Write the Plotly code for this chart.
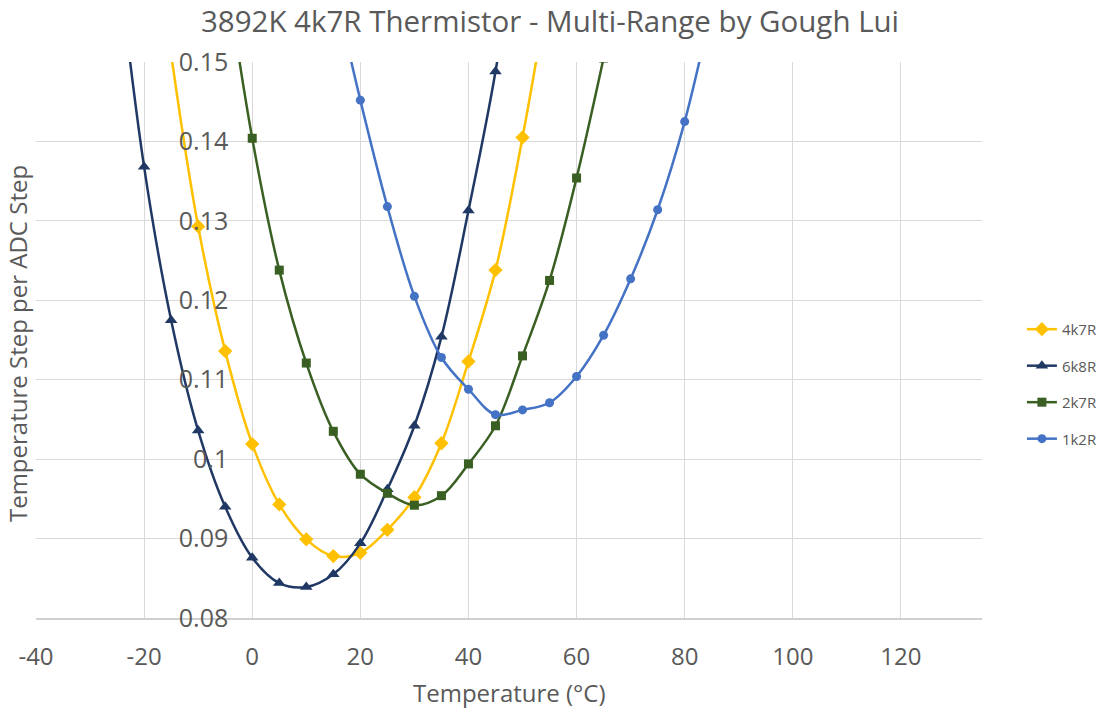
import plotly.graph_objects as go

# ---- data ----
x_4k7R = [-20, -15, -10, -5, 0, 5, 10, 15, 20, 25, 30, 35, 40, 45, 50, 55]
y_4k7R = [0.178, 0.1510, 0.1293, 0.1136, 0.1019, 0.0943, 0.0899, 0.0878, 0.0882,
          0.0911, 0.0952, 0.1020, 0.1123, 0.1238, 0.1405, 0.1600]

x_6k8R = [-25, -20, -15, -10, -5, 0, 5, 10, 15, 20, 25, 30, 35, 40, 45, 50]
y_6k8R = [0.164, 0.1368, 0.1175, 0.1036, 0.0940, 0.0876, 0.0844, 0.0839, 0.0855,
          0.0894, 0.0962, 0.1042, 0.1154, 0.1313, 0.1488, 0.172]

x_2k7R = [-5, 0, 5, 10, 15, 20, 25, 30, 35, 40, 45, 50, 55, 60, 65]
y_2k7R = [0.162, 0.1404, 0.1238, 0.1121, 0.1035, 0.0981, 0.0957, 0.0942, 0.0954,
          0.0994, 0.1042, 0.1130, 0.1225, 0.1354, 0.1505]

x_1k2R = [15, 20, 25, 30, 35, 40, 45, 50, 55, 60, 65, 70, 75, 80, 85]
y_1k2R = [0.160, 0.1452, 0.1318, 0.1205, 0.1128, 0.1088, 0.1056, 0.1062, 0.1071,
          0.1104, 0.1156, 0.1227, 0.1314, 0.1425, 0.157]

x_tickvals = [-40, -20, 0, 20, 40, 60, 80, 100, 120]
x_ticktext = ["-40", "-20", "0", "20", "40", "60", "80", "100", "120"]
y_tickvals = [0.08, 0.09, 0.10, 0.11, 0.12, 0.13, 0.14, 0.15]
y_ticktext = ["0.08", "0.09", "0.1", "0.11", "0.12", "0.13", "0.14", "0.15"]

series = [
    ("4k7R", x_4k7R, y_4k7R, "#FFC000", "diamond", 11),
    ("6k8R", x_6k8R, y_6k8R, "#203864", "triangle-up", 11),
    ("2k7R", x_2k7R, y_2k7R, "#3A5F22", "square", 9),
    ("1k2R", x_1k2R, y_1k2R, "#4472C4", "circle", 9),
]

FONT = "Open Sans"
GREY = "#595959"

fig = go.Figure()
for name, xs, ys, col, sym, sz in series:
    fig.add_trace(go.Scatter(
        x=xs, y=ys, name=name, mode="lines+markers",
        line=dict(color=col, width=2.5, shape="spline", smoothing=1),
        marker=dict(color=col, symbol=sym, size=sz),
        legendgroup=name,
    ))

W, H = 1115, 719
L, R, T, B = 36, 131, 62, 101
plot_w = W - L - R
plot_h = H - T - B
xmin, xmax = -40, 135
ypos = (0 - xmin) / (xmax - xmin)

fig.update_layout(
    width=W, height=H,
    margin=dict(l=L, r=R, t=T, b=B),
    paper_bgcolor="white", plot_bgcolor="white",
    font=dict(family=FONT, color=GREY),
    title=dict(text="3892K 4k7R Thermistor - Multi-Range by Gough Lui",
               x=550 / W, xanchor="center", xref="container",
               y=1 - 22 / H, yref="container", yanchor="middle",
               font=dict(size=29.5, color=GREY, family=FONT)),
    xaxis=dict(range=[xmin, xmax], tickvals=x_tickvals, ticktext=x_ticktext,
               ticks="", automargin=False,
               showgrid=True, gridcolor="#D9D9D9", gridwidth=1,
               zeroline=False, showline=True, linecolor="#D0D0D0", linewidth=1.5,
               tickfont=dict(size=24, color=GREY), ticklabelstandoff=16),
    yaxis=dict(range=[0.08, 0.15], tickvals=y_tickvals, ticktext=y_ticktext,
               anchor="free", position=ypos, ticks="", automargin=False,
               showgrid=True, gridcolor="#D9D9D9", gridwidth=1,
               zeroline=False, showline=False,
               tickfont=dict(size=25, color=GREY), ticklabelstandoff=24),
    legend=dict(x=(1024 - L) / plot_w, xanchor="left",
                y=0.421, yanchor="middle",
                font=dict(size=15, color=GREY), tracegroupgap=14,
                bgcolor="rgba(0,0,0,0)"),
    showlegend=True,
    annotations=[
        dict(text="Temperature Step per ADC Step", textangle=-90,
             xref="paper", yref="paper",
             x=(17 - L) / plot_w, y=(H - B - 344) / plot_h,
             xanchor="center", yanchor="middle", showarrow=False,
             font=dict(size=24, color=GREY, family=FONT)),
        dict(text="Temperature (°C)",
             xref="paper", yref="paper",
             x=(510 - L) / plot_w, y=-(692 - (H - B)) / plot_h,
             xanchor="center", yanchor="middle", showarrow=False,
             font=dict(size=24, color=GREY, family=FONT)),
    ],
)

fig.write_html("out.html", config={"displayModeBar": False},
               post_script="document.body.style.margin='0px';")
